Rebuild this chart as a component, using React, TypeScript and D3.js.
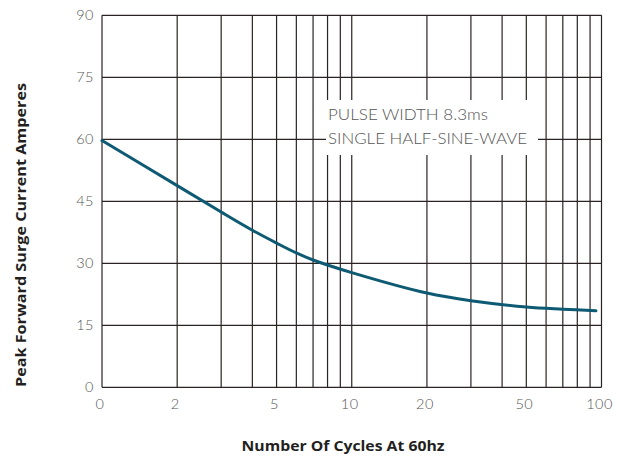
import React, { useEffect, useRef } from 'react';
import * as d3 from 'd3';

// Surge current vs number of cycles
const cycles = [1, 2, 3, 4, 5, 6, 7, 10, 20, 30, 50, 70, 95];
const amps = [59.7, 48.8, 42.4, 38.0, 34.9, 32.5, 30.8, 27.75, 22.8, 20.95, 19.45, 18.9, 18.5];

const yTicks = [0, 15, 30, 45, 60, 75, 90];
const xGrid = [1, 2, 3, 4, 5, 6, 7, 8, 9, 10, 20, 30, 40, 50, 60, 70, 80, 90, 100];
const xTickValues = [1, 2, 5, 10, 20, 50, 100];
const xTickLabels = ['0', '2', '5', '10', '20', '50', '100'];
const noteLines = ['PULSE WIDTH 8.3ms', 'SINGLE HALF-SINE-WAVE'];

const W = 628;
const H = 459;
const GRID = '#2b2222';
const CURVE = '#0e5a73';

export default function App() {
    const svgRef = useRef<SVGSVGElement>(null);

    useEffect(() => {
        if (!svgRef.current) return;
        const svg = d3.select(svgRef.current);
        svg.selectAll('*').remove();

        const x = d3.scaleLog().domain([1, 100]).range([102, 601.5]);
        const y = d3.scaleLinear().domain([0, 90]).range([387.3, 15.3]);

        svg.append('rect').attr('width', W).attr('height', H).attr('fill', '#fff');

        const g = svg.append('g');

        // horizontal grid
        g.selectAll('.hgrid')
            .data(yTicks)
            .enter()
            .append('line')
            .attr('x1', x(1))
            .attr('x2', x(100))
            .attr('y1', d => y(d))
            .attr('y2', d => y(d))
            .attr('stroke', GRID)
            .attr('stroke-width', 1.2);

        // vertical grid
        g.selectAll('.vgrid')
            .data(xGrid)
            .enter()
            .append('line')
            .attr('x1', d => x(d))
            .attr('x2', d => x(d))
            .attr('y1', y(0))
            .attr('y2', y(90))
            .attr('stroke', GRID)
            .attr('stroke-width', 1.2);

        // annotation box (covers the grid behind the text)
        const note = svg.append('g');
        note.append('rect')
            .attr('x', 326)
            .attr('y', 100)
            .attr('width', 212)
            .attr('height', 55)
            .attr('fill', '#fff');
        note.selectAll('text')
            .data(noteLines)
            .enter()
            .append('text')
            .attr('x', 328)
            .attr('y', (d, i) => 120 + i * 24.3)
            .attr('font-family', 'Lato, "Open Sans", sans-serif')
            .attr('font-weight', 300)
            .attr('font-size', '15px')
            .attr('fill', '#555')
            .attr('textLength', (d, i) => (i === 0 ? 160 : 199))
            .attr('lengthAdjust', 'spacingAndGlyphs')
            .text(d => d);

        // curve
        const line = d3.line<number>()
            .x((d, i) => x(cycles[i]))
            .y(d => y(d))
            .curve(d3.curveCatmullRom.alpha(0.5));

        svg.append('path')
            .datum(amps)
            .attr('d', line)
            .attr('fill', 'none')
            .attr('stroke', CURVE)
            .attr('stroke-width', 3)
            .attr('stroke-linecap', 'round');

        // y tick labels
        svg.selectAll('.ylab')
            .data(yTicks)
            .enter()
            .append('text')
            .attr('x', 94)
            .attr('y', d => y(d))
            .attr('dy', '0.35em')
            .attr('text-anchor', 'end')
            .attr('font-family', 'Lato, "Open Sans", sans-serif')
            .attr('font-weight', 300)
            .attr('font-size', '14.5px')
            .attr('letter-spacing', '0.5px')
            .attr('fill', '#555')
            .text(d => String(d));

        // x tick labels
        svg.selectAll('.xlab')
            .data(xTickValues)
            .enter()
            .append('text')
            .attr('x', d => x(d) - 2)
            .attr('y', 409)
            .attr('text-anchor', 'middle')
            .attr('font-family', 'Lato, "Open Sans", sans-serif')
            .attr('font-weight', 300)
            .attr('font-size', '14.5px')
            .attr('letter-spacing', '0.5px')
            .attr('fill', '#555')
            .text((d, i) => xTickLabels[i]);

        // axis titles
        svg.append('text')
            .attr('x', 343)
            .attr('y', 451)
            .attr('text-anchor', 'middle')
            .attr('font-family', '"Open Sans", sans-serif')
            .attr('font-weight', 'bold')
            .attr('font-size', '14.5px')
            .attr('fill', '#231f20')
            .attr('textLength', 203)
            .attr('lengthAdjust', 'spacingAndGlyphs')
            .text('Number Of Cycles At 60hz');

        svg.append('text')
            .attr('transform', 'translate(26,235) rotate(-90)')
            .attr('text-anchor', 'middle')
            .attr('font-family', '"Open Sans", sans-serif')
            .attr('font-weight', 'bold')
            .attr('font-size', '14.5px')
            .attr('fill', '#231f20')
            .attr('textLength', 304)
            .attr('lengthAdjust', 'spacingAndGlyphs')
            .text('Peak Forward Surge Current Amperes');
    }, []);

    return (
        <div style={{ position: 'absolute', left: 0, top: 0 }}>
            <svg ref={svgRef} width={W} height={H} />
        </div>
    );
}
